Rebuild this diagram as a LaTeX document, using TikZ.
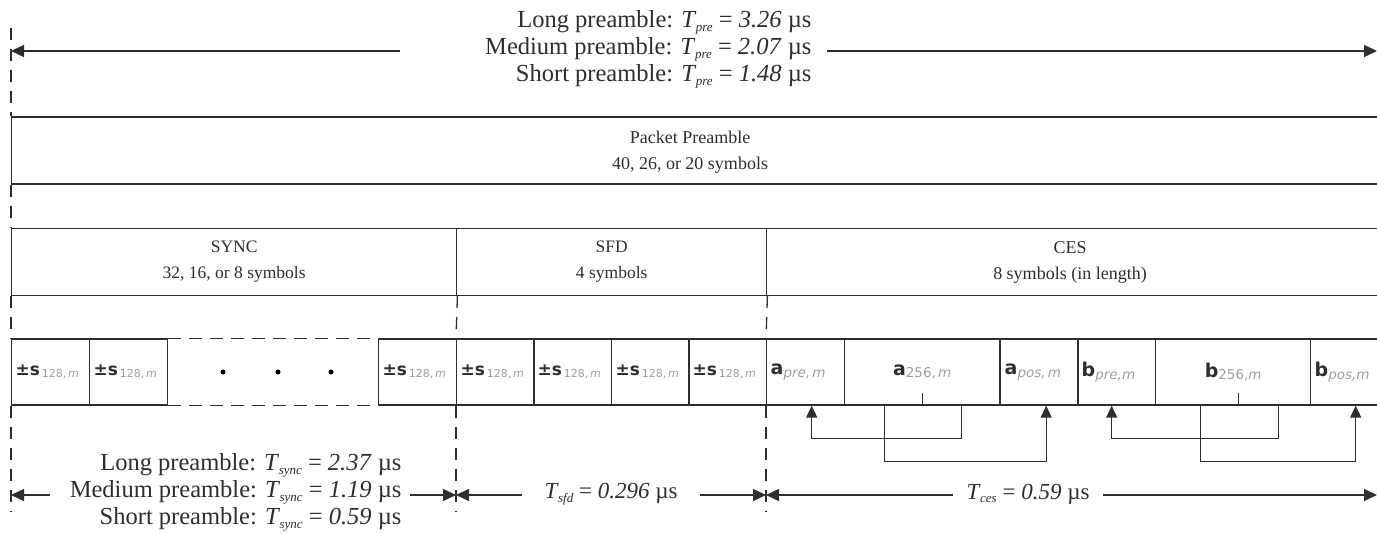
\documentclass[tikz,border=0pt]{standalone}
\usepackage{fontspec}
\setmainfont{Liberation Serif}
\newfontfamily\sansf{DejaVu Sans}
\usetikzlibrary{arrows.meta,calc}
\definecolor{ink}{gray}{0.18}
\definecolor{subg}{gray}{0.62}
\newcommand\Tv[1]{\textit{T}\kern-0.5pt\raisebox{-0.35ex}{\fontsize{13}{13}\selectfont\itshape #1}}
\newcommand\cl[2]{{\sansf\fontsize{17}{17}\selectfont\bfseries #1}\raisebox{-0.55ex}{\sansf\fontsize{11}{11}\selectfont\color{subg}\,#2}}
\newcommand\ab[2]{{\sansf\fontsize{19}{19}\selectfont\bfseries #1}\raisebox{-0.6ex}{\sansf\fontsize{13.5}{13.5}\selectfont\color{subg}#2}}
\newcommand\pms{\cl{±s}{128,\,\itshape m}}
\begin{document}
\begin{tikzpicture}[x=1pt,y=-1pt,
  ln/.style={draw=ink,line width=1.4pt},
  dsh/.style={draw=ink,line width=1.3pt,dash pattern=on 12pt off 9pt},
  dshh/.style={draw=ink,line width=1.4pt,dash pattern=on 13pt off 8pt},
  dim/.style={draw=ink,line width=1.4pt,-{Triangle[length=13pt,width=12pt]}},
  conn/.style={draw=ink,line width=1.4pt,-{Triangle[length=12pt,width=11pt]}},
  box/.style={ln,minimum height=67pt,inner sep=0pt,anchor=west,font=\fontsize{17.5}{26}\selectfont,align=center,text=ink},
  btxt/.style={font=\fontsize{18}{26}\selectfont,align=center,text=ink},
  cell/.style={ln,minimum height=66pt,inner xsep=4pt,inner ysep=0pt,anchor=west,text width=70pt,align=left,text=ink},
  wcell/.style={cell,text width=147pt,align=center},
  three/.style={font=\fontsize{24.5}{27}\selectfont,align=right,anchor=east,text=ink},
  lbl/.style={font=\fontsize{23}{27}\selectfont,text=ink},
  dot/.style={circle,fill=black,inner sep=0pt,minimum size=5pt}
]
\useasboundingbox (0,0) rectangle (1377,534);
\clip (0,0) rectangle (1377,534);

% top preamble duration
\node[three] (pre) at (815,49) {Long preamble: \Tv{pre} = \textit{3.26} µs\\Medium preamble: \Tv{pre} = \textit{2.07} µs\\Short preamble: \Tv{pre} = \textit{1.48} µs};
\coordinate (t0) at (11,28);
\coordinate (pL) at (11,51);
\coordinate (pa) at (400,51);
\coordinate (pb) at (827,51);
\coordinate (pR) at (1377,51);
\draw[dim] (pa) -- (pL);
\draw[dim] (pb) -- (pR);

% packet preamble
\node[box,minimum width=1400pt] (pp) at (11,150.5) {};
\node[btxt] (ppt) at (690,152) {Packet Preamble\\40, 26, or 20 symbols};

% SYNC / SFD / CES
\node[box,minimum width=445pt] (sync) at (11,262) {SYNC\\32, 16, or 8 symbols};
\node[box,minimum width=310pt] (sfd) at (456,262) {SFD\\4 symbols};
\node[box,minimum width=700pt] (ces) at (766,262) {};
\node[btxt] (cest) at (1070,262) {CES\\8 symbols (in length)};

% symbol cells
\node[cell] (s1) at (11,372) {\pms};
\node[cell] (s2) at (89,372) {\pms};
\node[cell] (s3) at (378,372) {\pms};
\node[cell] (f1) at (456,372) {\pms};
\node[cell] (f2) at (533,372) {\pms};
\node[cell] (f3) at (611,372) {\pms};
\node[cell] (f4) at (688,372) {\pms};
\node[cell] (apre) at (766,372) {\ab{a}{\itshape pre,\,m}};
\node[wcell] (a256) at (844,372) {\ab{a}{256,\,\itshape m}};
\node[cell] (apos) at (1000,372) {\ab{a}{\itshape pos,\,m}};
\node[cell] (bpre) at (1077,372) {\ab{b}{\itshape pre,m}};
\node[wcell] (b256) at (1155,372) {\ab{b}{256,\itshape m}};
\node[cell] (bpos) at (1310,372) {\ab{b}{\itshape pos,m}};

\draw[dshh] (s2.north east) -- (s3.north west);
\draw[dshh] (s2.south east) -- (s3.south west);
\node[dot] (d1) at (223,372) {};
\node[dot] (d2) at (278,372) {};
\node[dot] (d3) at (331,372) {};

% dashed verticals
\coordinate (b1) at (11,512);
\coordinate (b2) at (456,512);
\coordinate (b3) at (766,512);
\draw[dsh] (t0) -- (pp.north west);
\draw[dsh] (pp.south west) -- (sync.north west);
\draw[dsh] (sync.south west) -- (s1.north west);
\draw[dsh] (sync.south east) -- (f1.north west);
\draw[dsh] (sfd.south east) -- (apre.north west);
\draw[dsh] (s1.south west) -- (b1);
\draw[dsh] (f1.south west) -- (b2);
\draw[dsh] (apre.south west) -- (b3);

% ticks
\draw[ln] (a256.south) -- ++(0,-13);
\draw[ln] ($(b256.south)+(5.5,0)$) -- ++(0,-13);

% CES mapping connectors
\draw[conn] ($(a256.south)+(39,0)$) -- ++(0,33) -| ($(apre.south)+(6,0)$);
\draw[conn] ($(a256.south)+(-38,0)$) -- ++(0,56) -| ($(apos.south)+(6.5,0)$);
\draw[conn] ($(b256.south)+(45.5,0)$) -- ++(0,33) -| ($(bpre.south)+(-5,0)$);
\draw[conn] ($(b256.south)+(-32.5,0)$) -- ++(0,56) -| ($(bpos.south)+(6,0)$);

% bottom durations
\node[three] (syn) at (405,492) {Long preamble: \Tv{sync} = \textit{2.37} µs\\Medium preamble: \Tv{sync} = \textit{1.19} µs\\Short preamble: \Tv{sync} = \textit{0.59} µs};
\node[lbl] (sfdt) at (611,494) {\Tv{sfd} = \textit{0.296} µs};
\node[lbl] (cest2) at (1028,494) {\Tv{ces} = \textit{0.59} µs};
\coordinate (y0) at (11,495);
\coordinate (y1) at (50,495);
\coordinate (y2) at (410,495);
\coordinate (y3) at (456,495);
\coordinate (y4) at (522,495);
\coordinate (y5) at (700,495);
\coordinate (y6) at (766,495);
\coordinate (y7) at (953,495);
\coordinate (y8) at (1103,495);
\coordinate (y9) at (1377,495);
\draw[dim] (y1) -- (y0);
\draw[dim] (y2) -- (y3);
\draw[dim] (y4) -- (y3);
\draw[dim] (y5) -- (y6);
\draw[dim] (y7) -- (y6);
\draw[dim] (y8) -- (y9);
\end{tikzpicture}
\end{document}
